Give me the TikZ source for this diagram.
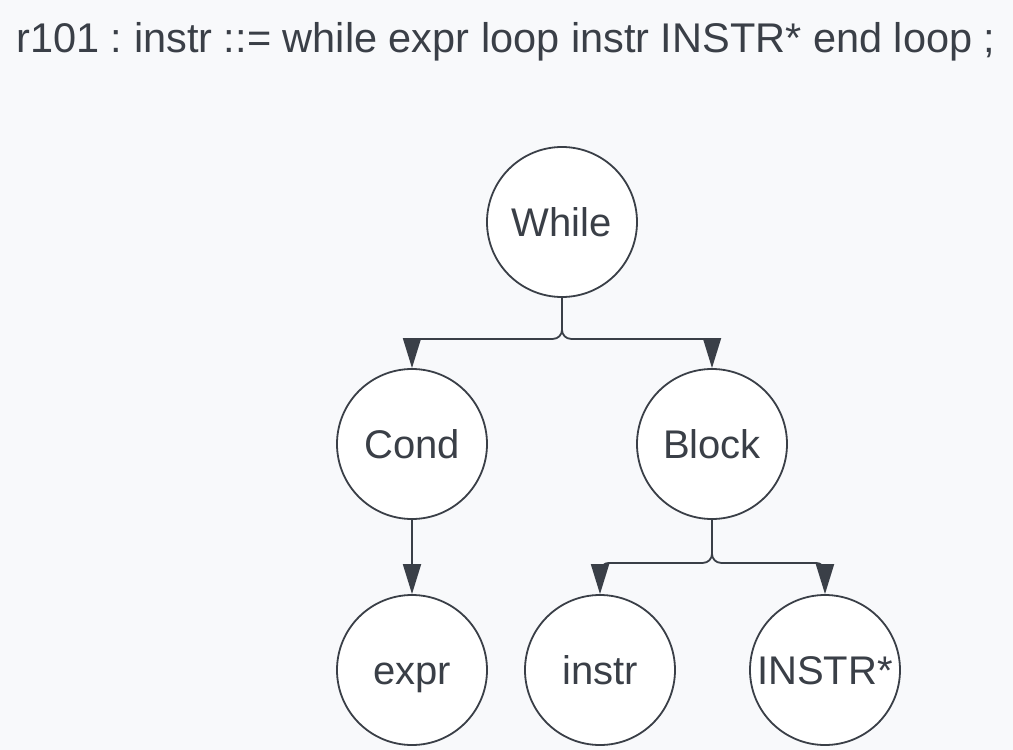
\documentclass[tikz,border=0pt]{standalone}
\usepackage{fontspec}
\setmainfont{Liberation Sans}
\usetikzlibrary{arrows.meta}
\definecolor{linea}{HTML}{3A3F47}
\definecolor{sfondo}{HTML}{F8F9FB}
\frenchspacing
\begin{document}
\begin{tikzpicture}[x=1pt, y=-1pt, line width=1.8pt,
    every node/.style={text=linea},
    nodo/.style={circle, draw=linea, fill=white, minimum size=150pt, inner sep=0pt,
        text height=29pt, text depth=0pt, font=\fontsize{40}{48}\selectfont},
    freccia/.style={draw=linea, rounded corners=9pt, -{Triangle[width=18pt,length=30pt]}}]
    % Sfondo e bordi
    \fill[sfondo] (0,0) rectangle (1013,750);
    \useasboundingbox (0,0) rectangle (1013,750);

    % Regola
    \node[anchor=base, font=\fontsize{41.5}{48}\selectfont] (regola) at (506,52) {r101 : instr ::= while expr loop instr INSTR* end loop ;};

    % Nodi dell'albero
    \node[nodo] (while) at (562,222) {While};
    \node[nodo] (cond) at (412,444) {Cond};
    \node[nodo] (block) at (712,444) {Block};
    \node[nodo] (expr) at (412,670) {expr};
    \node[nodo] (instr) at (600,670) {instr};
    \node[nodo] (instrs) at (825,670) {INSTR*};

    % Archi
    \foreach \figlio in {cond, block}
        \draw[freccia] (while.south) -- ++(0,41) -| (\figlio.north);
    \draw[freccia] (cond.south) -- (expr.north);
    \foreach \figlio in {instr, instrs}
        \draw[freccia] (block.south) -- ++(0,43) -| (\figlio.north);
\end{tikzpicture}
\end{document}
